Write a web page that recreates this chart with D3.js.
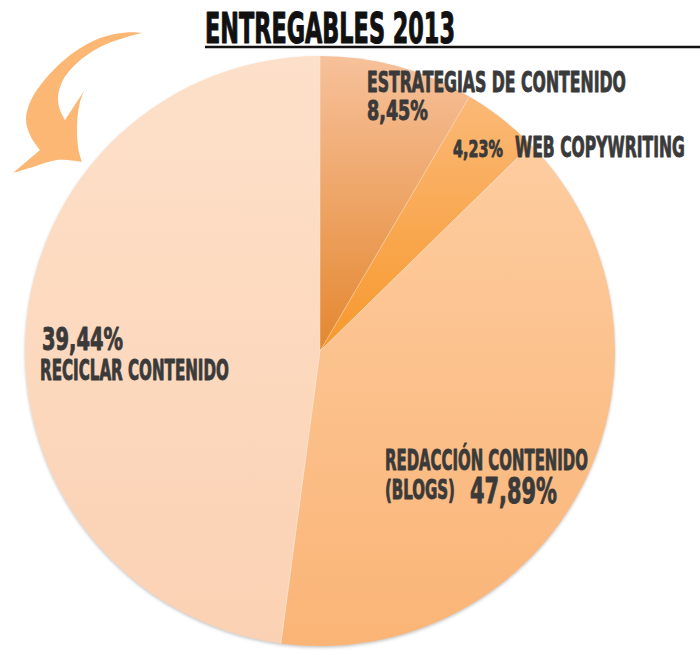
<!DOCTYPE html>
<html>
<head>
<meta charset="utf-8">
<script src="https://cdn.jsdelivr.net/npm/d3@7"></script>
<style>
  html, body { margin: 0; padding: 0; background: #ffffff; }
  svg { display: block; }
</style>
</head>
<body>
<div id="chart"></div>
<script>
// ---- data (as drawn) ----
const categories = ["Estrategias de contenido", "Web copywriting", "Redacción contenido (blogs)", "Reciclar contenido"];
const sliceValues = [8.45, 4.23, 39.44, 47.89];            // slice sizes as drawn in the picture
const pctLabels = ["8,45%", "4,23%", "47,89%", "39,44%"];   // percentages as printed
const titleText = "ENTREGABLES 2013";

// ---- styling / layout (kept separate from data) ----
const W = 700, H = 655;
const cx = 320, cy = 351, R = 295;
const gradStops = [
  { y1: 55,  y2: 351, c1: "#f7c19b", c2: "#e4872f" },
  { y1: 95,  y2: 351, c1: "#fbb977", c2: "#f7982c" },
  { y1: 150, y2: 646, c1: "#fdcc9f", c2: "#fab476" },
  { y1: 55,  y2: 646, c1: "#fde0c9", c2: "#fbd1b3" }
];
const textColor = "#3a3a3a";
const FONT = "'Liberation Sans Narrow','DejaVu Sans Condensed','Liberation Sans',sans-serif";

const svg = d3.select("#chart").append("svg")
  .attr("width", W).attr("height", H)
  .attr("viewBox", `0 0 ${W} ${H}`);

const defs = svg.append("defs");
gradStops.forEach((gs, i) => {
  const lg = defs.append("linearGradient")
    .attr("id", "gl" + i)
    .attr("gradientUnits", "userSpaceOnUse")
    .attr("x1", 0).attr("x2", 0).attr("y1", gs.y1 - cy).attr("y2", gs.y2 - cy);
  lg.append("stop").attr("offset", 0).attr("stop-color", gs.c1);
  lg.append("stop").attr("offset", 1).attr("stop-color", gs.c2);
});
const f = defs.append("filter").attr("id", "shadow")
  .attr("x", "-5%").attr("y", "-5%").attr("width", "110%").attr("height", "110%");
f.append("feDropShadow").attr("dx", 0).attr("dy", 1.5).attr("stdDeviation", 1.4)
  .attr("flood-color", "#7a7a7a").attr("flood-opacity", 0.45);

// ---- arrow decoration ----
const arrowOuter = [[142,33],[126,32.5],[100,38],[73,53],[47,77],[31,100],[26,120],[31,137],[40,150]];
const arrowBottom = [[13,173],[33,167],[57,160],[82,162]];
const arrowRight = [[82,162],[78.5,150],[77,127],[79.5,104],[84,91]];
const arrowInner = [[65,120],[60,110],[58,97],[63,80],[77,63],[100,47],[127,37],[142,33]];
const cr = d3.line().curve(d3.curveCatmullRom.alpha(0.5));
const seg = pts => cr(pts).replace(/^M/, "L");
const arrowD = cr(arrowOuter) + seg(arrowBottom) + seg(arrowRight) + seg(arrowInner) + "Z";
svg.append("path").attr("d", arrowD).attr("fill", "#fdb774");

// ---- pie ----
const pie = d3.pie().sort(null).value(d => d);
const arc = d3.arc().innerRadius(0).outerRadius(R);
const arcs = pie(sliceValues);

const g = svg.append("g").attr("transform", `translate(${cx},${cy})`)
  .attr("filter", "url(#shadow)");
g.selectAll("path.slice").data(arcs).join("path")
  .attr("class", "slice")
  .attr("d", arc)
  .attr("fill", (d, i) => `url(#gl${i})`);

g.selectAll("path.sep").data(arcs).join("path")
  .attr("class", "sep")
  .attr("d", d => `M0,0L${R * Math.sin(d.startAngle)},${-R * Math.cos(d.startAngle)}`)
  .attr("stroke", "rgba(255,255,255,0.35)").attr("stroke-width", 1).attr("fill", "none");

// ---- text helper: fit to target width by horizontal scaling ----
function fitText(sel, x, y, size, len, txt, color, sw) {
  const t = sel.append("text")
    .attr("x", 0).attr("y", 0)
    .attr("font-family", FONT).attr("font-weight", "bold")
    .attr("font-size", size).attr("fill", color)
    .attr("stroke", color).attr("stroke-width", sw).attr("stroke-linejoin", "round")
    .text(txt);
  const natural = t.node().getComputedTextLength() || len;
  t.attr("transform", `translate(${x},${y}) scale(${len / natural},1)`);
  return t;
}

// ---- title ----
fitText(svg, 205, 43, 42, 250, titleText, "#111", 1.1);
svg.append("line")
  .attr("x1", 205).attr("x2", 700).attr("y1", 47).attr("y2", 47)
  .attr("stroke", "#111").attr("stroke-width", 2.6);

// ---- labels ----
const labelLayout = [
  { x: 367, y: 92,  size: 28, len: 259, text: categories[0].toUpperCase() },
  { x: 367, y: 120, size: 27, len: 61,  text: pctLabels[0] },
  { x: 453, y: 157, size: 23, len: 50,  text: pctLabels[1] },
  { x: 515, y: 157, size: 29, len: 170, text: categories[1].toUpperCase() },
  { x: 385, y: 470, size: 28, len: 203, text: "REDACCIÓN CONTENIDO" },
  { x: 385, y: 499, size: 26, len: 70,  text: "(BLOGS)" },
  { x: 470, y: 503, size: 36, len: 87,  text: pctLabels[2] },
  { x: 42,  y: 350, size: 32, len: 81,  text: pctLabels[3] },
  { x: 40,  y: 380, size: 28, len: 189, text: categories[3].toUpperCase() }
];
labelLayout.forEach(d => fitText(svg, d.x, d.y, d.size, d.len, d.text, textColor, 0.9));
</script>
</body>
</html>
